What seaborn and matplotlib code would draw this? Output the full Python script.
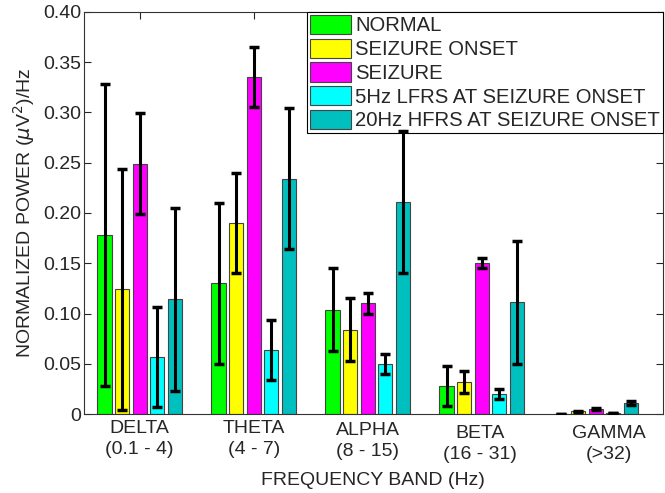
import numpy as np
import pandas as pd
import matplotlib
matplotlib.use("Agg")
import matplotlib.pyplot as plt
import matplotlib.transforms as mtransforms
import seaborn as sns

# ============================================================
# DATA
# ============================================================

bands = ["DELTA\n(0.1 - 4)", "THETA\n(4 - 7)", "ALPHA\n(8 - 15)",
         "BETA\n(16 - 31)", "GAMMA\n(>32)"]
conditions = ["NORMAL", "SEIZURE ONSET", "SEIZURE",
              "5Hz LFRS AT SEIZURE ONSET", "20Hz HFRS AT SEIZURE ONSET"]

normal = [0.178, 0.130, 0.104, 0.028, 0.0005]
onset = [0.124, 0.190, 0.084, 0.032, 0.0027]
seizure = [0.249, 0.335, 0.110, 0.150, 0.0053]
lfrs = [0.057, 0.064, 0.050, 0.020, 0.001]
hfrs = [0.114, 0.234, 0.211, 0.111, 0.0107]

normal_err = [0.150, 0.080, 0.041, 0.020, 0.0]
onset_err = [0.120, 0.050, 0.031, 0.011, 0.0005]
seizure_err = [0.050, 0.030, 0.010, 0.005, 0.001]
lfrs_err = [0.050, 0.030, 0.010, 0.005, 0.0]
hfrs_err = [0.091, 0.070, 0.071, 0.061, 0.002]

colors = ["#00ff00", "#ffff00", "#ff00ff", "#00ffff", "#00bfbf"]

values = [normal, onset, seizure, lfrs, hfrs]
errors = [normal_err, onset_err, seizure_err, lfrs_err, hfrs_err]

df = pd.DataFrame({
    "band": [b for _ in conditions for b in bands],
    "condition": [c for c in conditions for _ in bands],
    "power": [v for vals in values for v in vals],
})

# ============================================================
# PLOT
# ============================================================

sns.set_style("ticks")
plt.rcParams["font.family"] = ["Liberation Sans", "DejaVu Sans"]
plt.rcParams["font.size"] = 14

fig = plt.figure(figsize=(6.65, 4.93), dpi=100)
ax = fig.add_axes([0.126, 0.160, 0.871, 0.816])

sns.barplot(data=df, x="band", y="power", hue="condition",
            order=bands, hue_order=conditions, palette=colors,
            errorbar=None, width=0.77, gap=0.19, saturation=1,
            edgecolor="#444444", linewidth=0.8, ax=ax)

# error bars on top of the bars that seaborn drew
for cont, errs in zip(ax.containers, errors):
    xs = [p.get_x() + p.get_width() / 2 for p in cont.patches]
    hs = [p.get_height() for p in cont.patches]
    ax.errorbar(xs, hs, yerr=errs, fmt="none", ecolor="black",
                elinewidth=2.2, capsize=3.7, capthick=2.5, zorder=6)

ax.set_xlim(-0.49, 4.59)
ax.set_ylim(0, 0.40)
yt = np.arange(0, 0.401, 0.05)
ax.set_yticks(yt)
ax.set_yticklabels(["0"] + [f"{v:.2f}" for v in yt[1:]])

ax.tick_params(direction="in", length=5, top=True, right=True, labelsize=14)
ax.tick_params(axis="y", pad=2)
ax.tick_params(axis="x", pad=4)
for s in ax.spines.values():
    s.set_color("#333333")
    s.set_linewidth(0.8)

# BETA / GAMMA labels sit a little lower, GAMMA also further right
labels = ax.get_xticklabels()
shifts = {2: (0, -2), 3: (-2, -5), 4: (13, -5)}
for i, (dx, dy) in shifts.items():
    off = mtransforms.ScaledTranslation(dx / 100, dy / 100, fig.dpi_scale_trans)
    labels[i].set_transform(labels[i].get_transform() + off)
for lab in labels:
    lab.set_linespacing(1.3)

ax.set_xlabel("FREQUENCY BAND (Hz)", fontsize=14, labelpad=7)
ax.set_ylabel("NORMALIZED POWER ($\\mu$V$^2$)/Hz", fontsize=14, labelpad=4)

leg = ax.legend(loc="upper right", fontsize=14.6, frameon=True, fancybox=False,
                borderaxespad=0.0, handlelength=2.0, handleheight=1.08,
                labelspacing=0.16, handletextpad=0.2, borderpad=0.15)
leg.get_frame().set_edgecolor("black")
leg.get_frame().set_linewidth(0.8)
leg.get_frame().set_alpha(1)

fig.savefig("out.png", dpi=100)
